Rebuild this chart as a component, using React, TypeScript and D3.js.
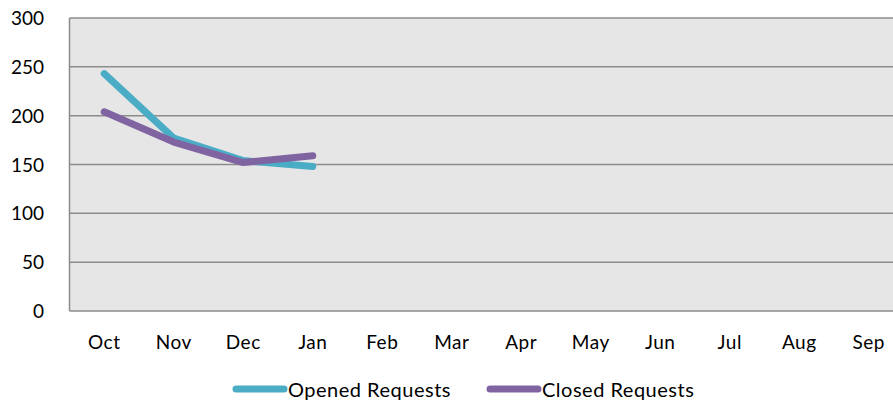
import React, { useEffect, useRef } from 'react';
import * as d3 from 'd3';

const months = ['Oct', 'Nov', 'Dec', 'Jan', 'Feb', 'Mar', 'Apr', 'May', 'Jun', 'Jul', 'Aug', 'Sep'];
const opened = [243, 177, 154, 148];
const closed = [204, 173, 152, 159];
const yTicks = [0, 50, 100, 150, 200, 250, 300];

const App = () => {
  const ref = useRef<SVGSVGElement>(null);

  useEffect(() => {
    const width = 893;
    const height = 404;
    const left = 69.5;
    const top = 18;
    const bottom = 311;
    const right = left + 12 * 69.5;
    const font = 'Lato, "Open Sans", sans-serif';

    const svg = d3.select(ref.current);
    svg.selectAll('*').remove();
    svg.attr('width', width).attr('height', height);

    const x = d3.scaleBand<string>().domain(months).range([left, right]);
    const y = d3.scaleLinear().domain([0, 300]).range([bottom, top]);

    // plot background
    svg.append('rect')
      .attr('x', left).attr('y', top)
      .attr('width', right - left).attr('height', bottom - top)
      .attr('fill', '#e6e6e6');

    // gridlines
    svg.append('g')
      .selectAll('line')
      .data(yTicks)
      .enter()
      .append('line')
      .attr('x1', left).attr('x2', right)
      .attr('y1', d => y(d)).attr('y2', d => y(d))
      .attr('stroke', '#8c8c8c')
      .attr('stroke-width', 1.5);

    svg.append('line')
      .attr('x1', left).attr('x2', left)
      .attr('y1', top).attr('y2', bottom)
      .attr('stroke', '#8c8c8c')
      .attr('stroke-width', 1.5);

    // y labels
    svg.append('g')
      .selectAll('text')
      .data(yTicks)
      .enter()
      .append('text')
      .attr('x', 44)
      .attr('y', d => y(d) + 7)
      .attr('text-anchor', 'end')
      .attr('font-family', font)
      .attr('font-size', 19)
      .attr('fill', '#000')
      .text(d => d);

    // x labels
    svg.append('g')
      .selectAll('text')
      .data(months)
      .enter()
      .append('text')
      .attr('x', d => (x(d) as number) + x.bandwidth() / 2)
      .attr('y', 349)
      .attr('text-anchor', 'middle')
      .attr('font-family', font)
      .attr('font-size', 19)
      .attr('letter-spacing', 0.5)
      .attr('fill', '#000')
      .text(d => d);

    const line = d3.line<number>()
      .x((d, i) => (x(months[i]) as number) + x.bandwidth() / 2)
      .y(d => y(d));

    svg.append('path')
      .attr('d', line(opened))
      .attr('fill', 'none')
      .attr('stroke', '#4bacc6')
      .attr('stroke-width', 7)
      .attr('stroke-linecap', 'round')
      .attr('stroke-linejoin', 'round');

    svg.append('path')
      .attr('d', line(closed))
      .attr('fill', 'none')
      .attr('stroke', '#8064a2')
      .attr('stroke-width', 7)
      .attr('stroke-linecap', 'round')
      .attr('stroke-linejoin', 'round');

    // legend
    const legend = [
      { name: 'Opened Requests', color: '#4bacc6', x: 236 },
      { name: 'Closed Requests', color: '#8064a2', x: 490 },
    ];
    const lg = svg.append('g');
    legend.forEach(l => {
      lg.append('line')
        .attr('x1', l.x).attr('x2', l.x + 48)
        .attr('y1', 389).attr('y2', 389)
        .attr('stroke', l.color)
        .attr('stroke-width', 7)
        .attr('stroke-linecap', 'round');
      lg.append('text')
        .attr('x', l.x + 52)
        .attr('y', 397)
        .attr('font-family', font)
        .attr('font-size', 20)
        .attr('letter-spacing', 0.5)
        .attr('fill', '#000')
        .text(l.name);
    });
  }, []);

  return (
    <div style={{ position: 'absolute', left: 0, top: 0 }}>
      <svg ref={ref} style={{ display: 'block' }} />
    </div>
  );
};

export default App;
